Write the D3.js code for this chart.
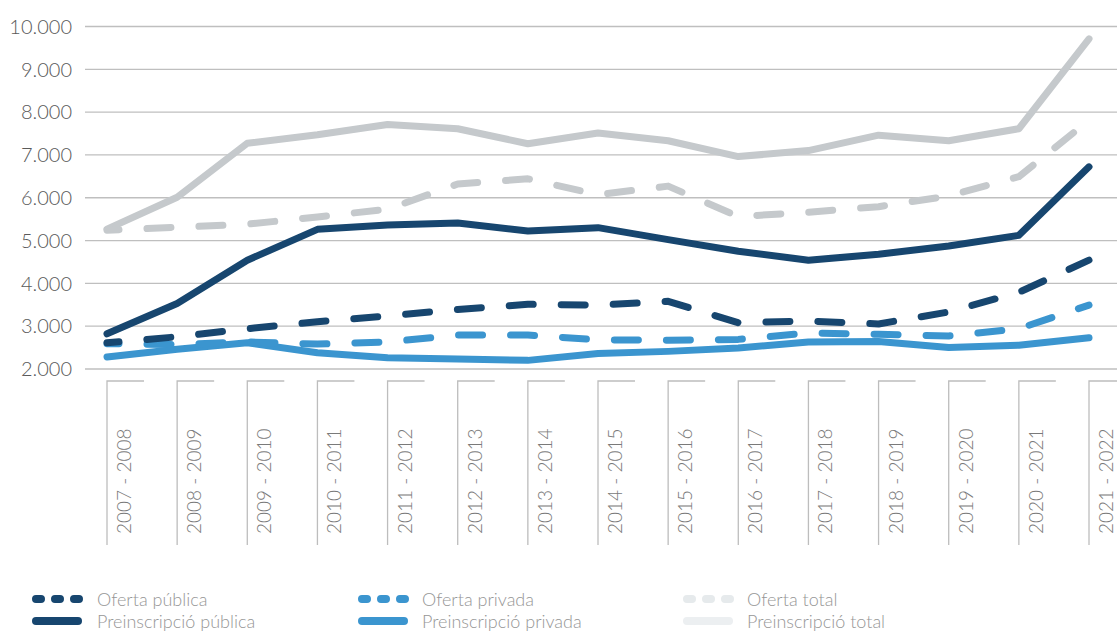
<!DOCTYPE html>
<html>
<head>
<meta charset="utf-8">
<script src="https://cdn.jsdelivr.net/npm/d3@7"></script>
<style>
  body { margin: 0; background: #fff; }
  svg text { font-family: Lato, "Open Sans", sans-serif; font-weight: 300; }
</style>
</head>
<body>
<div id="chart-container"></div>
<script>
const cursos = ["2007 - 2008", "2008 - 2009", "2009 - 2010", "2010 - 2011", "2011 - 2012",
  "2012 - 2013", "2013 - 2014", "2014 - 2015", "2015 - 2016", "2016 - 2017",
  "2017 - 2018", "2018 - 2019", "2019 - 2020", "2020 - 2021", "2021 - 2022"];

const ofertaPublica = [2600, 2740, 2930, 3090, 3230, 3380, 3500, 3480, 3570, 3070, 3110, 3040, 3320, 3780, 4530];
const preinscripcioPublica = [2810, 3520, 4530, 5250, 5350, 5400, 5210, 5290, 5010, 4740, 4530, 4670, 4860, 5110, 6710];
const ofertaPrivada = [2580, 2560, 2620, 2570, 2620, 2780, 2780, 2670, 2660, 2680, 2830, 2800, 2760, 2930, 3480];
const preinscripcioPrivada = [2270, 2450, 2600, 2370, 2250, 2220, 2190, 2350, 2400, 2480, 2620, 2630, 2490, 2545, 2720];
const ofertaTotal = [5230, 5300, 5370, 5540, 5720, 6310, 6430, 6060, 6260, 5550, 5650, 5780, 6030, 6480, 7800];
const preinscripcioTotal = [5255, 6000, 7260, 7460, 7700, 7600, 7250, 7500, 7320, 6950, 7090, 7450, 7320, 7600, 9700];

const yTicks = [2000, 3000, 4000, 5000, 6000, 7000, 8000, 9000, 10000];

const width = 1117, height = 633;
const navy = "#17466f", blue = "#3b95cf", gray = "#c5c9cc";

// ordre de dibuix: gris al fons, després blau i blau fosc
const series = [
  { name: "Preinscripció total", values: preinscripcioTotal, color: gray, dashed: false },
  { name: "Oferta total", values: ofertaTotal, color: gray, dashed: true },
  { name: "Preinscripció privada", values: preinscripcioPrivada, color: blue, dashed: false },
  { name: "Oferta privada", values: ofertaPrivada, color: blue, dashed: true },
  { name: "Preinscripció pública", values: preinscripcioPublica, color: navy, dashed: false },
  { name: "Oferta pública", values: ofertaPublica, color: navy, dashed: true }
];

const legend = [
  { name: "Oferta pública", color: navy, dashed: true, col: 0, row: 0 },
  { name: "Preinscripció pública", color: navy, dashed: false, col: 0, row: 1 },
  { name: "Oferta privada", color: blue, dashed: true, col: 1, row: 0 },
  { name: "Preinscripció privada", color: blue, dashed: false, col: 1, row: 1 },
  { name: "Oferta total", color: "#e6eaec", dashed: true, col: 2, row: 0 },
  { name: "Preinscripció total", color: "#eceff1", dashed: false, col: 2, row: 1 }
];

const svg = d3.select("#chart-container")
  .append("svg")
  .attr("width", width)
  .attr("height", height);

const x = d3.scalePoint()
  .domain(cursos)
  .range([107, 1089]);

const y = d3.scaleLinear()
  .domain([2000, 10000])
  .range([368.5, 26]);

const fmt = d3.formatLocale({ decimal: ",", thousands: ".", grouping: [3], currency: ["", "€"] }).format(",d");

// graella horitzontal
const yAxis = svg.append("g")
  .attr("transform", "translate(85,0)")
  .call(d3.axisLeft(y).tickValues(yTicks).tickSize(-(width - 85)).tickPadding(13).tickFormat(fmt));
yAxis.select(".domain").remove();
yAxis.selectAll(".tick line").attr("stroke", "#bfbfbf").attr("stroke-width", 1.3);
yAxis.selectAll(".tick text")
  .attr("fill", "#5a5a5a")
  .style("font-size", "20px")
  .attr("dy", "0.36em");

// eix x amb claudàtors
const xAxis = svg.append("g");
const tick = xAxis.selectAll("g")
  .data(cursos)
  .enter()
  .append("g")
  .attr("transform", d => `translate(${x(d)},0)`);
tick.append("path")
  .attr("d", "M37,381H0V545")
  .attr("fill", "none")
  .attr("stroke", "#bdbdbd")
  .attr("stroke-width", 1.3);
tick.append("text")
  .attr("transform", "translate(24,534) rotate(-90)")
  .attr("fill", "#7a7a7a")
  .style("font-size", "19px")
  .text(d => d);

// línies
const line = d3.line()
  .x((d, i) => x(cursos[i]))
  .y(d => y(d));

svg.append("g")
  .selectAll("path")
  .data(series)
  .enter()
  .append("path")
  .attr("d", s => line(s.values))
  .attr("fill", "none")
  .attr("stroke", s => s.color)
  .attr("stroke-width", 7)
  .attr("stroke-linecap", "round")
  .attr("stroke-linejoin", "round")
  .attr("stroke-dasharray", s => s.dashed ? "24 28" : null)
  .attr("stroke-dashoffset", s => s.dashed ? 12 : null);

// llegenda
const colX = [36, 362, 687];
const textX = [97, 422, 747];
const rowY = [599, 621];

const item = svg.append("g")
  .selectAll("g")
  .data(legend)
  .enter()
  .append("g");
item.append("line")
  .attr("x1", d => colX[d.col])
  .attr("x2", d => colX[d.col] + (d.dashed ? 43 : 42))
  .attr("y1", d => rowY[d.row])
  .attr("y2", d => rowY[d.row])
  .attr("stroke", d => d.color)
  .attr("stroke-width", 8)
  .attr("stroke-linecap", "round")
  .attr("stroke-dasharray", d => d.dashed ? "5 14" : null);
item.append("text")
  .attr("x", d => textX[d.col])
  .attr("y", d => rowY[d.row] + 6.5)
  .attr("fill", "#969696")
  .style("font-size", "18px")
  .text(d => d.name);
</script>
</body>
</html>
